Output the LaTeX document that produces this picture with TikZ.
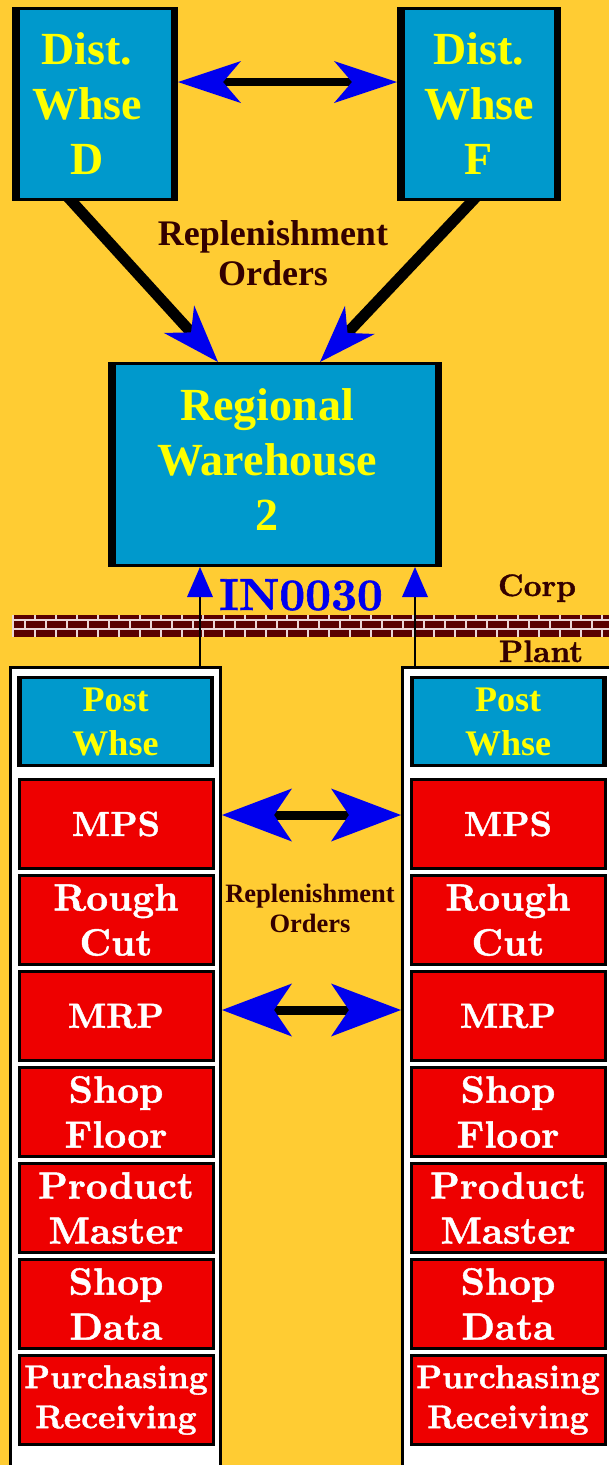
\documentclass[tikz,border=0pt]{standalone}
\usepackage{fontspec}
\newfontfamily\tms{Liberation Serif}
\newfontfamily\lmb{lmroman10-bold}[Extension=.otf, FakeBold=1.2]
\usetikzlibrary{arrows.meta,calc}
\definecolor{bgy}{HTML}{FFCC33}
\definecolor{cyn}{HTML}{0099CC}
\definecolor{yel}{HTML}{FFFF00}
\definecolor{abl}{HTML}{0000EE}
\definecolor{rd}{HTML}{EE0000}
\definecolor{brn}{HTML}{330000}
\definecolor{brk}{HTML}{5A0000}
\definecolor{mort}{HTML}{EAD6D6}
\pgfdeclarelayer{bglayer}
\pgfdeclarelayer{connlayer}
\pgfsetlayers{bglayer,connlayer,main}
\newcommand{\rk}{\kern16pt}
\begin{document}
\begin{tikzpicture}[x=1pt,y=-1pt,
  whbox/.style={rectangle, inner sep=0pt, fill=cyn, draw=black, line width=3pt,
    text=yel, align=center, font=\tms\bfseries\fontsize{46}{55}\selectfont,
    path picture={
      \fill[black] (path picture bounding box.south west) rectangle ([xshift=6pt]path picture bounding box.north west);
      \fill[black] (path picture bounding box.south east) rectangle ([xshift=-6pt]path picture bounding box.north east);}},
  pwbox/.style={rectangle, inner sep=0pt, fill=cyn, draw=black, line width=3pt,
    text=yel, align=center, font=\tms\bfseries\fontsize{36}{44}\selectfont,
    minimum width=194pt, minimum height=88pt,
    path picture={
      \fill[black] (path picture bounding box.south west) rectangle ([xshift=3pt]path picture bounding box.north west);
      \fill[black] (path picture bounding box.south east) rectangle ([xshift=-3pt]path picture bounding box.north east);}},
  rbox/.style={rectangle, inner sep=0pt, fill=rd, draw=black, line width=3pt,
    text=white, align=center, font=\lmb\fontsize{38}{45}\selectfont,
    minimum width=194pt, minimum height=89pt},
  rsmall/.style={font=\lmb\fontsize{35}{42}\selectfont},
  rpur/.style={font=\lmb\fontsize{33}{40}\selectfont},
  panel/.style={rectangle, inner sep=0pt, fill=white, draw=black, line width=3pt},
  lbl/.style={text=brn, align=center, inner sep=0pt},
  dbl/.style={draw=black, line width=8pt,
    >={Stealth[length=63pt,width=42pt,inset=18pt,line width=0pt,color=abl]}, <->},
  mdbl/.style={draw=black, line width=9pt,
    >={Stealth[length=70pt,width=53pt,inset=18pt,line width=0pt,color=abl]}, <->},
  diag/.style={draw=black, line width=11pt,
    >={Stealth[length=58pt,width=41pt,inset=18pt,line width=0pt,color=abl]}, ->},
  uarr/.style={draw=black, line width=2pt,
    >={Triangle[length=30pt,width=26pt,line width=0pt,color=abl]}, ->}
]
\useasboundingbox (0,0) rectangle (609,1465);
\begin{pgfonlayer}{bglayer}
  \fill[bgy] (0,0) rectangle (609,1465);
\end{pgfonlayer}

% brick wall
\fill[brk] (12,615) rectangle (609,637);
\draw[mort, line width=1.6pt] (12,620) -- (609,620) (12,629) -- (609,629);
\draw[mort, line width=1.6pt] (12.8,615) -- (12.8,637);
\foreach \x in {35,56,...,609} {\draw[mort, line width=1.6pt] (\x,615) -- (\x,620) (\x,629) -- (\x,637);}
\foreach \x in {25,46,...,609} {\draw[mort, line width=1.6pt] (\x,620) -- (\x,629);}

% top warehouses
\node[whbox, minimum width=163pt, minimum height=191pt] (d) at (95,104) {Dist.\rk\\Whse\rk\\D\rk};
\node[whbox, minimum width=161pt, minimum height=191pt] (f) at (479,104) {Dist.\\Whse\\F};
\node[whbox, minimum width=331pt, minimum height=202pt] (r) at (275,464.5) {Regional\rk\\Warehouse\rk\\2\vphantom{g}\rk};

\node[lbl, font=\tms\bfseries\fontsize{36}{40}\selectfont] (ro1) at (273,253) {Replenishment\\Orders};

\node[text=abl, inner sep=0pt, anchor=base, font=\lmb\fontsize{45}{50}\selectfont] (in) at (301,610) {IN0030};
\node[lbl, anchor=base, font=\lmb\fontsize{31}{36}\selectfont] (corp) at (537,596) {Corp};
\node[lbl, anchor=base, font=\lmb\fontsize{31}{36}\selectfont] (plant) at (541,662) {Plant};

% plant panels
\node[panel, minimum width=210pt, minimum height=831pt] (lp) at (115.5,1083) {};
\node[panel, minimum width=246pt, minimum height=831pt] (rp) at (525.5,1083) {};

% left stack
\node[pwbox] (pwL) at (115.5,721.5) {Post\\Whse};
\node[rbox, rsmall] (mpsL) at (116,824) {MPS};
\node[rbox] (rcL) at (116,920) {Rough\\Cut};
\node[rbox, rsmall] (mrpL) at (116,1016) {MRP};
\node[rbox] (sfL) at (116,1112) {Shop\\Floor};
\node[rbox] (pmL) at (116,1208) {Product\\Master};
\node[rbox] (sdL) at (116,1304) {Shop\\Data};
\node[rbox, rpur] (prL) at (116,1400) {Purchasing\\Receiving};

% right stack
\node[pwbox] (pwR) at (508,721.5) {Post\\Whse};
\node[rbox, rsmall] (mpsR) at (508,824) {MPS};
\node[rbox] (rcR) at (508,920) {Rough\\Cut};
\node[rbox, rsmall] (mrpR) at (508,1016) {MRP};
\node[rbox] (sfR) at (508,1112) {Shop\\Floor};
\node[rbox] (pmR) at (508,1208) {Product\\Master};
\node[rbox] (sdR) at (508,1304) {Shop\\Data};
\node[rbox, rpur] (prR) at (508,1400) {Purchasing\\Receiving};

\node[lbl, font=\tms\bfseries\fontsize{26.5}{29.5}\selectfont] (ro2) at (310,908.5) {Replenishment\\Orders};

% connectors
\draw[dbl] ([yshift=22pt]d.east) -- ([yshift=22pt]f.west);
\begin{pgfonlayer}{connlayer}
  \draw[diag] ([xshift=-29pt,yshift=6pt]d.south) -- ([xshift=-57pt]r.north);
  \draw[diag] ([xshift=-1pt,yshift=6pt]f.south) -- ([xshift=45pt]r.north);
\end{pgfonlayer}
\coordinate (va) at ([xshift=-75pt]r.south);
\coordinate (vb) at ([xshift=140pt]r.south);
\draw[uarr] (va |- lp.north) -- (va);
\draw[uarr] (vb |- rp.north) -- (vb);
\coordinate (m1) at ([yshift=9pt]mpsL.east);
\coordinate (m2) at ([yshift=6pt]mrpL.east);
\draw[mdbl] (m1 -| lp.east) -- (m1 -| rp.west);
\draw[mdbl] (m2 -| lp.east) -- (m2 -| rp.west);
\end{tikzpicture}
\end{document}
